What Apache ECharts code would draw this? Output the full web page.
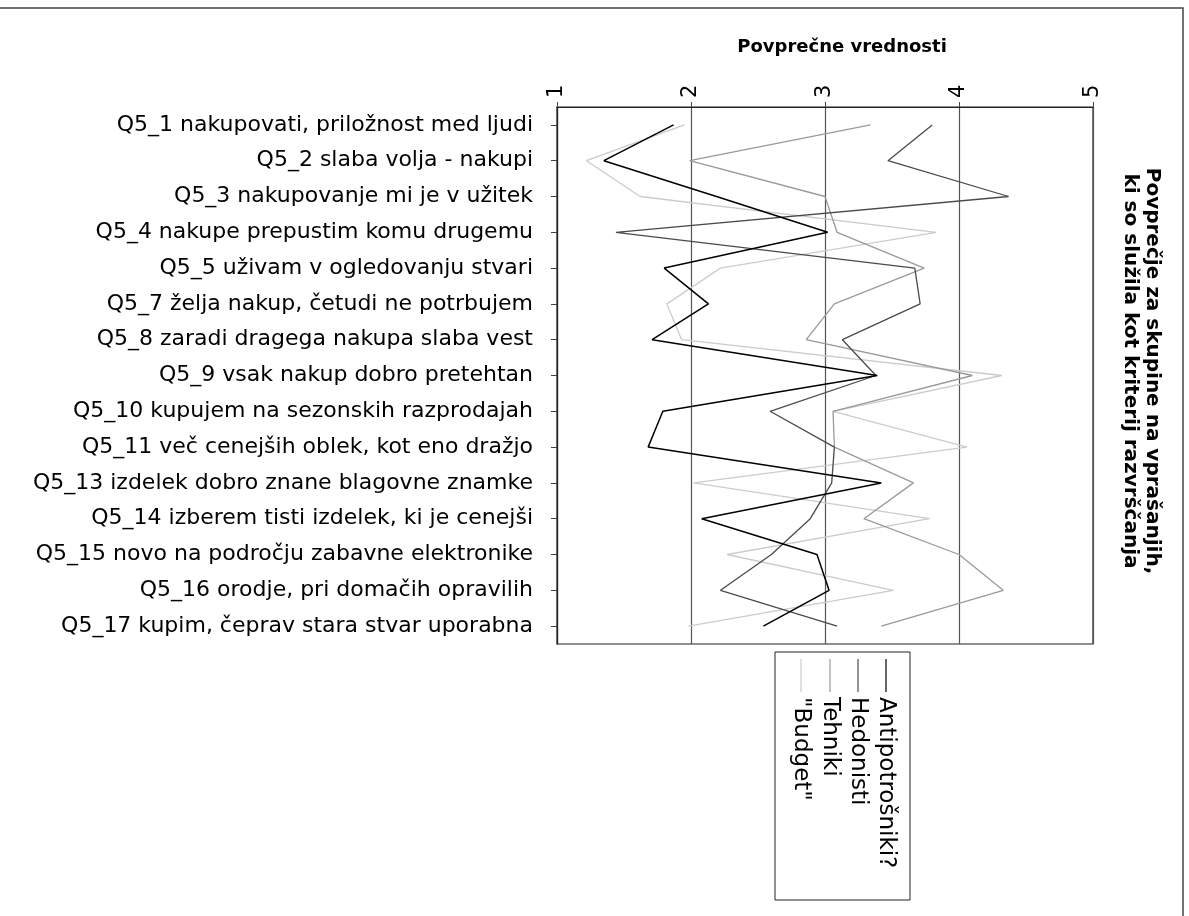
<!DOCTYPE html>
<html>
<head>
<meta charset="utf-8">
<script src="https://cdn.jsdelivr.net/npm/echarts@6/dist/echarts.min.js"></script>
<style>
html,body{margin:0;padding:0;background:#fff;}
#chart{width:1189px;height:916px;}
</style>
</head>
<body>
<div id="chart"></div>
<script>
const categories = [
  'Q5_1 nakupovati, priložnost med ljudi',
  'Q5_2 slaba volja - nakupi',
  'Q5_3 nakupovanje mi je v užitek',
  'Q5_4 nakupe prepustim komu drugemu',
  'Q5_5 uživam v ogledovanju stvari',
  'Q5_7 želja nakup, četudi ne potrbujem',
  'Q5_8 zaradi dragega nakupa slaba vest',
  'Q5_9 vsak nakup dobro pretehtan',
  'Q5_10 kupujem na sezonskih razprodajah',
  'Q5_11 več cenejših oblek, kot eno dražjo',
  'Q5_13 izdelek dobro znane blagovne znamke',
  'Q5_14 izberem tisti izdelek, ki je cenejši',
  'Q5_15 novo na področju zabavne elektronike',
  'Q5_16 orodje, pri domačih opravilih',
  'Q5_17 kupim, čeprav stara stvar uporabna'
];
const seriesNames = ['Antipotrošniki?', 'Hedonisti', 'Tehniki', '"Budget"'];
const antipotrosniki = [1.87, 1.35, 2.19, 3.02, 1.80, 2.13, 1.71, 3.39, 1.79, 1.68, 3.42, 2.08, 2.94, 3.03, 2.54];
const hedonisti      = [3.80, 3.47, 4.37, 1.44, 3.67, 3.71, 3.13, 3.38, 2.59, 3.07, 3.05, 2.89, 2.60, 2.22, 3.09];
const tehniki        = [3.34, 1.99, 3.00, 3.09, 3.74, 3.07, 2.86, 4.10, 3.06, 3.07, 3.66, 3.29, 4.00, 4.33, 3.42];
const budget         = [1.95, 1.22, 1.62, 3.83, 2.22, 1.82, 1.93, 4.32, 3.06, 4.06, 2.02, 3.78, 2.27, 3.51, 1.98];
const xTicks = [1, 2, 3, 4, 5];
const xTitle = 'Povprečne vrednosti';
const sideTitle = 'Povprečje za skupine na vprašanjih,\nki so služila kot kriterij razvrščanja';

const seriesData = [antipotrosniki, hedonisti, tehniki, budget];
const colors = ['#000000', '#4a4a4a', '#9a9a9a', '#cccccc'];
const widths = [1.5, 1.3, 1.3, 1.3];
const FONT = '"DejaVu Sans", "Noto Sans", sans-serif';

const chart = echarts.init(document.getElementById('chart'));

const legendX = [886, 858, 830, 801];
const legendGraphics = [];
seriesNames.forEach((n, i) => {
  legendGraphics.push({
    type: 'line', silent: true,
    shape: {x1: legendX[i], y1: 659, x2: legendX[i], y2: 692},
    style: {stroke: colors[i], lineWidth: 1.2}
  });
  legendGraphics.push({
    type: 'text', silent: true, x: legendX[i], y: 697, rotation: -Math.PI / 2,
    style: {text: n, font: '23px ' + FONT, fill: '#000',
      align: 'left', verticalAlign: 'middle', textAlign: 'left', textVerticalAlign: 'middle'}
  });
});

chart.setOption({
  backgroundColor: '#fff',
  animation: false,
  grid: {left: 557, right: 96, top: 107, bottom: 272, show: true, borderColor: '#222', borderWidth: 1.2},
  xAxis: {
    type: 'value', position: 'top', min: 1, max: 5, interval: 1,
    axisLine: {show: true, lineStyle: {color: '#222', width: 1.2}},
    axisTick: {show: true, length: 5, lineStyle: {color: '#444'}},
    axisLabel: {rotate: -90, fontFamily: FONT, fontSize: 21, color: '#000', margin: 9,
      formatter: v => xTicks.indexOf(v) >= 0 ? String(v) : ''},
    splitLine: {show: true, lineStyle: {color: '#555', width: 1.2}}
  },
  yAxis: {
    type: 'category', data: categories, inverse: true,
    axisLine: {show: true, lineStyle: {color: '#222', width: 1.2}},
    axisTick: {show: true, alignWithLabel: true, length: 6, lineStyle: {color: '#444'}},
    axisLabel: {fontFamily: FONT, fontSize: 22, color: '#000', margin: 24},
    splitLine: {show: false}
  },
  series: seriesData.map((d, i) => ({
    name: seriesNames[i], type: 'line', data: d, symbol: 'none',
    lineStyle: {color: colors[i], width: widths[i]}, itemStyle: {color: colors[i]}, z: 10 - i
  })),
  graphic: [
    {type: 'polyline', silent: true, shape: {points: [[0, 8], [1183, 8], [1183, 916]]},
      style: {stroke: '#444', lineWidth: 1.5, fill: null}},
    {type: 'text', silent: true, x: 842, y: 47,
      style: {text: xTitle, font: 'bold 18px ' + FONT, fill: '#000',
        align: 'center', verticalAlign: 'middle', textAlign: 'center', textVerticalAlign: 'middle'}},
    {type: 'text', silent: true, x: 1141, y: 371, rotation: -Math.PI / 2,
      style: {text: sideTitle, font: 'bold 20px ' + FONT, fill: '#000', lineHeight: 22,
        align: 'center', verticalAlign: 'middle', textAlign: 'center', textVerticalAlign: 'middle'}},
    {type: 'rect', silent: true, shape: {x: 775, y: 652, width: 135, height: 248},
      style: {stroke: '#222', lineWidth: 1, fill: null}},
    ...legendGraphics
  ]
});
</script>
</body>
</html>
